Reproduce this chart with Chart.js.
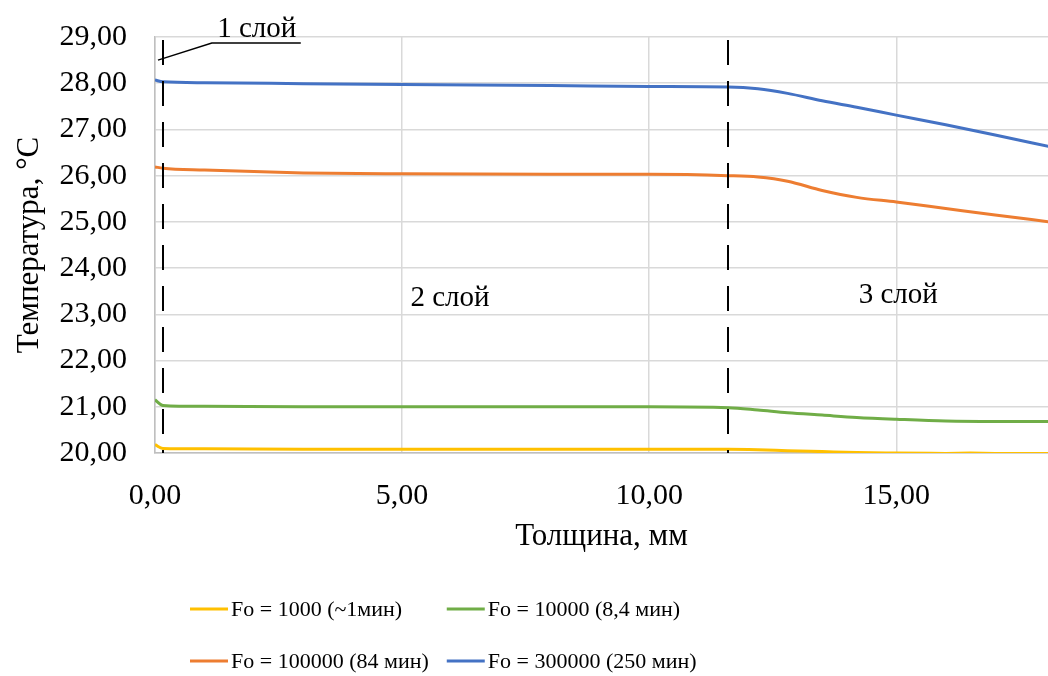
<!DOCTYPE html>
<html>
<head>
<meta charset="utf-8">
<script src="https://cdn.jsdelivr.net/npm/chart.js@4/dist/chart.umd.min.js"></script>
<style>
html, body { margin: 0; padding: 0; background: #fff; }
#wrap { width: 1048px; height: 676px; }
</style>
</head>
<body>
<div id="wrap"><canvas id="tempChart" width="1048" height="676"></canvas></div>
<script>
// Data
const thickness = [0, 0.16, 1, 3, 5, 8, 10, 11.6, 12.2, 12.8, 13.5, 14.2, 15, 16, 17, 18.1];
const fo1000   = [20.18, 20.10, 20.09, 20.08, 20.08, 20.08, 20.08, 20.08, 20.07, 20.05, 20.03, 20.01, 20.00, 19.99, 19.99, 19.99];
const fo10000  = [21.15, 21.03, 21.01, 21.00, 21.00, 21.00, 21.00, 20.98, 20.93, 20.87, 20.82, 20.77, 20.73, 20.69, 20.68, 20.68];
const fo100000 = [26.19, 26.16, 26.12, 26.06, 26.04, 26.03, 26.03, 26.00, 25.97, 25.88, 25.68, 25.53, 25.43, 25.29, 25.15, 25.00];
const fo300000 = [28.07, 28.03, 28.01, 27.99, 27.97, 27.95, 27.93, 27.92, 27.88, 27.78, 27.62, 27.48, 27.31, 27.10, 26.88, 26.63];

const seriesLabels = ['Fo = 1000 (~1мин)', 'Fo = 10000 (8,4 мин)', 'Fo = 100000 (84 мин)', 'Fo = 300000 (250 мин)'];
const seriesColors = ['#FFC000', '#70AD47', '#ED7D31', '#4472C4'];
const xTicks = [0, 5, 10, 15];
const layerBounds = [0.16, 11.6];
const layerNames = ['1 слой', '2 слой', '3 слой'];

const FONT = "'Liberation Serif', 'Times New Roman', serif";
const comma = v => Number(v).toFixed(2).replace('.', ',');

const toPoints = ys => ys.map((y, i) => ({ x: thickness[i], y: y }));

// Dashed layer borders + their labels
const layerPlugin = {
	id: 'layers',
	afterDatasetsDraw(chart) {
		const { ctx, chartArea, scales: { x, y } } = chart;
		ctx.save();
		ctx.strokeStyle = '#000';
		ctx.lineWidth = 2;
		ctx.setLineDash([25, 16]);
		layerBounds.forEach(b => {
			const px = Math.round(x.getPixelForValue(b));
			ctx.beginPath();
			ctx.moveTo(px, chartArea.top + 3);
			ctx.lineTo(px, chartArea.bottom);
			ctx.stroke();
		});

		// leader line for the thin first layer
		ctx.setLineDash([]);
		ctx.lineWidth = 1.5;
		ctx.beginPath();
		ctx.moveTo(x.getPixelForValue(0.06), y.getPixelForValue(28.5));
		ctx.lineTo(x.getPixelForValue(1.15), y.getPixelForValue(28.87));
		ctx.lineTo(x.getPixelForValue(2.95), y.getPixelForValue(28.87));
		ctx.stroke();

		ctx.fillStyle = '#000';
		ctx.font = '29px ' + FONT;
		ctx.textAlign = 'center';
		ctx.textBaseline = 'alphabetic';
		ctx.fillText(layerNames[0], x.getPixelForValue(2.06), y.getPixelForValue(29.0));
		ctx.textBaseline = 'middle';
		ctx.fillText(layerNames[1], x.getPixelForValue(5.97), y.getPixelForValue(23.35));
		ctx.fillText(layerNames[2], x.getPixelForValue(15.04), y.getPixelForValue(23.42));
		ctx.restore();
	}
};

// Legend in a 2x2 grid, like the original
const gridLegend = {
	id: 'gridLegend',
	afterDraw(chart) {
		const ctx = chart.ctx;
		const left = 190, lineLen = 38, gap = 3, colGap = 18;
		const rows = [609, 661];
		ctx.save();
		ctx.font = '22px ' + FONT;
		const w0 = Math.max(ctx.measureText(seriesLabels[0]).width, ctx.measureText(seriesLabels[2]).width);
		const cols = [left, left + lineLen + gap + w0 + colGap];
		chart.data.datasets.forEach((ds, i) => {
			const cx = cols[i % 2], cy = rows[Math.floor(i / 2)];
			ctx.strokeStyle = ds.borderColor;
			ctx.lineWidth = 3;
			ctx.beginPath();
			ctx.moveTo(cx, cy);
			ctx.lineTo(cx + lineLen, cy);
			ctx.stroke();
			ctx.fillStyle = '#000';
			ctx.textAlign = 'left';
			ctx.textBaseline = 'middle';
			ctx.fillText(ds.label, cx + lineLen + gap, cy + 1);
		});
		ctx.restore();
	}
};

const chart = new Chart(document.getElementById('tempChart'), {
	type: 'line',
	data: {
		datasets: [fo1000, fo10000, fo100000, fo300000].map((set, i) => ({
			label: seriesLabels[i],
			data: toPoints(set),
			borderColor: seriesColors[i],
			backgroundColor: seriesColors[i],
			borderWidth: 3,
			pointRadius: 0,
			cubicInterpolationMode: 'monotone',
			fill: false
		}))
	},
	options: {
		responsive: false,
		animation: false,
		devicePixelRatio: 1,
		layout: { padding: { left: 0, right: 0, top: 37, bottom: 121 } },
		plugins: {
			legend: { display: false },
			tooltip: { enabled: false }
		},
		scales: {
			x: {
				type: 'linear',
				min: 0,
				max: 18.07,
				afterBuildTicks: axis => { axis.ticks = xTicks.map(v => ({ value: v })); },
				afterFit: axis => { axis.height = 102; },
				grid: { color: '#d9d9d9', lineWidth: 1.5, drawTicks: false },
				border: { color: '#bfbfbf', width: 1.5 },
				ticks: { padding: 25, color: '#000', font: { family: FONT, size: 30 }, callback: comma, maxRotation: 0 },
				title: { display: true, text: 'Толщина, мм', color: '#000', font: { family: FONT, size: 31 }, padding: { top: 0, bottom: 0 } }
			},
			y: {
				min: 20,
				max: 29,
				// fixed width; label overflow is already covered by the layout padding
				afterFit: axis => { axis.width = 155; axis.paddingTop = 0; axis.paddingBottom = 0; },
				grid: { color: '#d9d9d9', lineWidth: 1.5, drawTicks: false },
				border: { color: '#bfbfbf', width: 1.5 },
				ticks: { stepSize: 1, padding: 28, color: '#000', font: { family: FONT, size: 30 }, callback: comma },
				title: { display: true, text: 'Температура, °С', color: '#000', font: { family: FONT, size: 31 }, padding: { top: 11, bottom: 0 } }
			}
		}
	},
	plugins: [layerPlugin, gridLegend]
});
</script>
</body>
</html>
